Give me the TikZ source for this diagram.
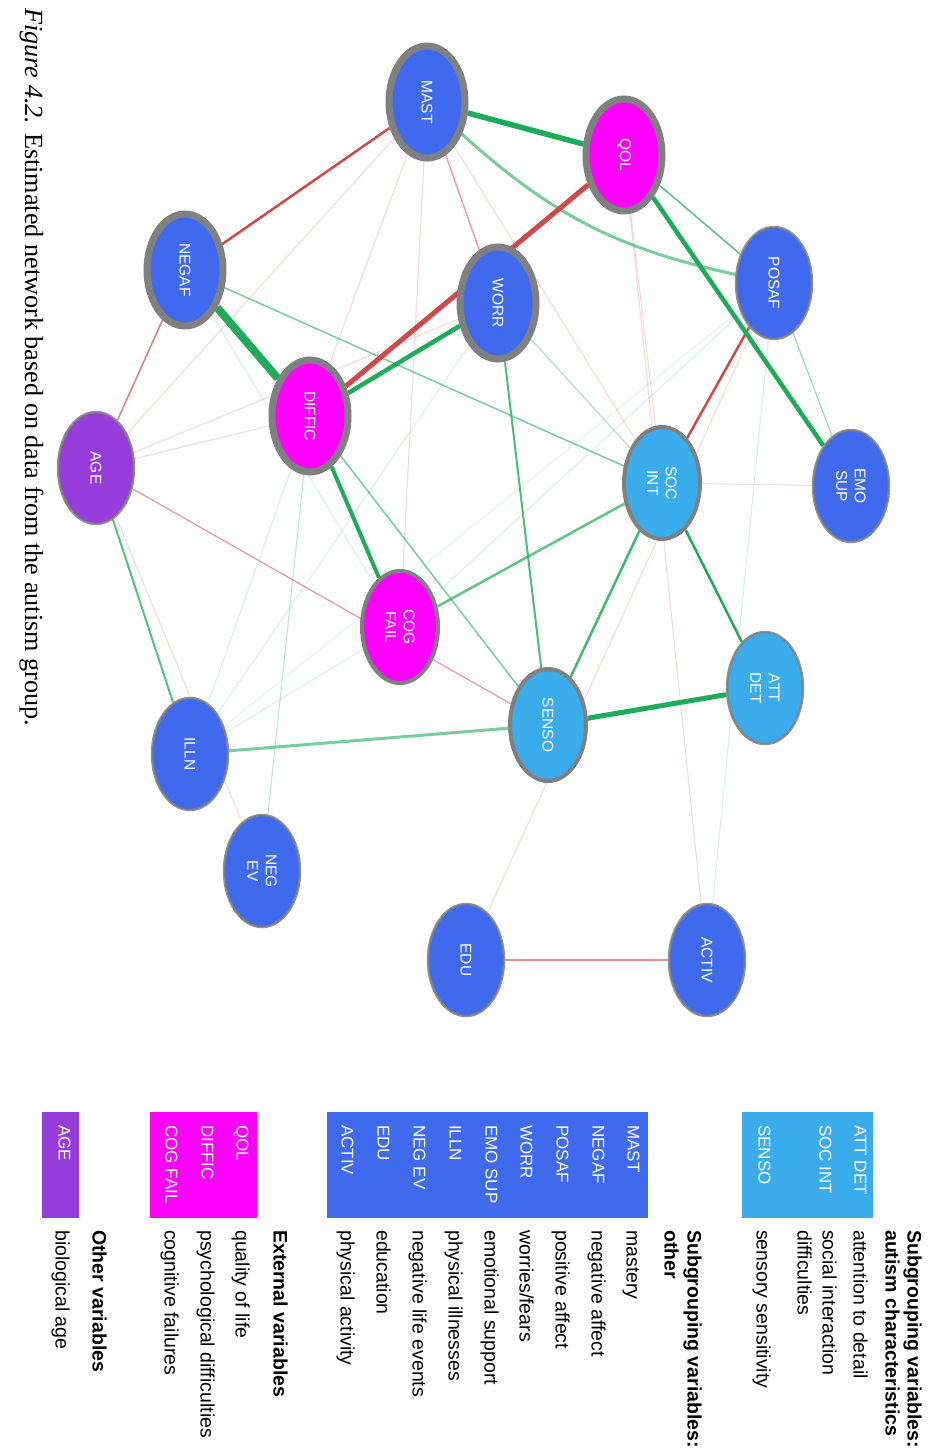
\documentclass[tikz,border=0pt]{standalone}
\usepackage{fontspec}
\setmainfont{Liberation Serif}
\newfontfamily\sansf{Liberation Sans}
\usetikzlibrary{shapes.geometric,backgrounds}
\definecolor{nblue}{RGB}{64,106,238}
\definecolor{lblue}{RGB}{58,172,236}
\definecolor{nmag}{RGB}{255,0,255}
\definecolor{npur}{RGB}{150,60,218}
\definecolor{bgray}{RGB}{128,128,128}
\definecolor{eg}{RGB}{30,172,90}
\definecolor{er}{RGB}{208,72,72}
\tikzset{
  nd/.style={ellipse, rotate=-90, minimum width=112pt, minimum height=76pt, inner sep=0pt,
    text=white, align=center, draw=bgray, font=\sansf\fontsize{15.5}{18.5}\selectfont},
  bthick/.style={line width=7pt},
  bmed/.style={line width=4pt},
  bthin/.style={line width=2.5pt, draw opacity=0.85},
  pe/.style={draw=eg, line width=#1},
  ne/.style={draw=er, line width=#1},
  fpe/.style={draw=eg, line width=1.1pt, draw opacity=0.17},
  fne/.style={draw=er, line width=1.1pt, draw opacity=0.2},
  lglab/.style={rotate=-90, anchor=mid west, inner sep=0pt, text=white, font=\sansf\fontsize{17}{20}\selectfont},
  lgdesc/.style={rotate=-90, anchor=mid west, inner sep=0pt, text=black, font=\sansf\fontsize{19.5}{23}\selectfont},
  lghead/.style={rotate=-90, anchor=mid west, inner sep=0pt, text=black, font=\sansf\bfseries\fontsize{19.5}{23}\selectfont},
}
\begin{document}
\begin{tikzpicture}[x=1pt,y=-1pt]
\useasboundingbox (0,0) rectangle (944,1449);
\begin{pgfonlayer}{background}
\fill[white] (0,0) rectangle (944,1449);
\end{pgfonlayer}

% caption
\node[rotate=-90, anchor=base west, inner sep=0pt, font=\fontsize{26.2}{30}\selectfont] (cap) at (25,8)
  {\textit{Figure 4.2.} Estimated network based on data from the autism group.};

% nodes
\node[nd, bthick, fill=nblue] (MAST) at (427,102) {MAST};
\node[nd, bthick, fill=nmag] (QOL) at (624,155) {QOL};
\node[nd, bthick, fill=nblue] (NEGAF) at (185,270) {NEGAF};
\node[nd, bthick, fill=nblue] (WORR) at (498,303) {WORR};
\node[nd, bthin, fill=nblue] (POSAF) at (774,283) {POSAF};
\node[nd, bthick, fill=nmag] (DIFFIC) at (310,416) {DIFFIC};
\node[nd, bthin, fill=npur] (AGE) at (96,468) {AGE};
\node[nd, bmed, fill=lblue] (SOCINT) at (662,483) {SOC\\INT};
\node[nd, bthin, fill=nblue] (EMOSUP) at (851,486) {EMO\\SUP};
\node[nd, bmed, fill=nmag] (COGFAIL) at (400,627) {COG\\FAIL};
\node[nd, bthin, fill=lblue] (ATTDET) at (765,688) {ATT\\DET};
\node[nd, bmed, fill=lblue] (SENSO) at (548,725) {SENSO};
\node[nd, bthin, fill=nblue] (ILLN) at (190,754) {ILLN};
\node[nd, bthin, fill=nblue] (NEGEV) at (262,871) {NEG\\EV};
\node[nd, bthin, fill=nblue] (EDU) at (466,960) {EDU};
\node[nd, bthin, fill=nblue] (ACTIV) at (707,960) {ACTIV};

% edges
\begin{pgfonlayer}{background}
% faint edges
\draw[fne] (EMOSUP) -- (SOCINT);
\draw[fne] (MAST) -- (AGE);
\draw[fne] (MAST) -- (DIFFIC);
\draw[fne] (MAST) -- (COGFAIL);
\draw[fne] (MAST) -- (SOCINT);
\draw[fne] (QOL) -- (SOCINT);
\draw[fne] (DIFFIC) -- (AGE);
\draw[fne] (AGE) -- (WORR);
\draw[fpe] (NEGAF) -- (COGFAIL);
\draw[fpe] (DIFFIC) -- (ILLN);
\draw[fpe, draw opacity=0.28] (DIFFIC) -- (NEGEV);
\draw[fne] (AGE) -- (NEGEV);
\draw[fpe] (ILLN) -- (COGFAIL);
\draw[fpe] (ILLN) -- (WORR);
\draw[fpe] (COGFAIL) -- (POSAF);
\draw[fpe] (ACTIV) -- (POSAF);
\draw[fne] (ACTIV) -- (QOL);
\draw[fne] (EDU) -- (POSAF);
\draw[fpe, draw opacity=0.12] (ILLN) -- (POSAF);
% weaker edges
\draw[pe=1.2, draw opacity=0.45] (POSAF) -- (EMOSUP);
\draw[pe=1.2, draw opacity=0.35] (WORR) -- (SOCINT);
\draw[ne=1.5, draw opacity=0.5] (MAST) -- (WORR);
\draw[ne=1.2, draw opacity=0.55] (AGE) -- (SENSO);
\draw[ne=1.5, draw opacity=0.7] (NEGAF) -- (AGE);
\draw[pe=1.5, draw opacity=0.75] (QOL) -- (POSAF);
\draw[pe=1.5, draw opacity=0.6] (DIFFIC) -- (SENSO);
\draw[pe=1.5, draw opacity=0.6] (NEGAF) -- (SOCINT);
\draw[ne=2.5, draw opacity=0.6] (EDU) -- (ACTIV);
\draw[pe=2, draw opacity=0.75] (AGE) -- (ILLN);
\draw[pe=2, draw opacity=0.8] (WORR) -- (SENSO);
\draw[pe=3, draw opacity=0.6] (ILLN) -- (SENSO);
\draw[pe=2.5, draw opacity=0.7] (SOCINT) -- (COGFAIL);
\draw[pe=3, draw opacity=0.6] (MAST) to[bend right=15] (POSAF);
\draw[pe=2.5, draw opacity=0.85] (SOCINT) -- (SENSO);
% strong edges
\draw[pe=2.5] (SOCINT) -- (ATTDET);
\draw[ne=2.5] (POSAF) -- (SOCINT);
\draw[ne=2.5] (MAST) -- (NEGAF);
\draw[pe=5] (ATTDET) -- (SENSO);
\draw[pe=4] (DIFFIC) -- (COGFAIL);
\draw[pe=4.5] (WORR) -- (DIFFIC);
\draw[pe=4.5] (QOL) -- (EMOSUP);
\draw[ne=5] (QOL) -- (DIFFIC);
\draw[pe=8] (NEGAF) -- (DIFFIC);
\draw[pe=5.5] (MAST) -- (QOL);
\end{pgfonlayer}

% legend: autism characteristics
\fill[lblue] (742,1112) rectangle (873,1218);
\node[lglab] (lATT) at (857,1125) {ATT DET};
\node[lglab] (lSOC) at (822,1125) {SOC INT};
\node[lglab] (lSEN) at (761,1125) {SENSO};
\node[lghead] (h1a) at (910,1230) {Subgrouping variables:};
\node[lghead] (h1b) at (888,1230) {autism characteristics};
\node[lgdesc] (dATT) at (856,1230) {attention to detail};
\node[lgdesc] (dSOC) at (825,1230) {social interaction};
\node[lgdesc] (dSOC2) at (800,1230) {difficulties};
\node[lgdesc] (dSEN) at (759,1230) {sensory sensitivity};

% legend: other
\fill[nblue] (327,1112) rectangle (648,1218);
\node[lglab] (lMAST) at (630,1125) {MAST};
\node[lglab] (lNEGAF) at (595,1125) {NEGAF};
\node[lglab] (lPOSAF) at (559,1125) {POSAF};
\node[lglab] (lWORR) at (523,1125) {WORR};
\node[lglab] (lEMO) at (488,1125) {EMO SUP};
\node[lglab] (lILLN) at (452,1125) {ILLN};
\node[lglab] (lNEGEV) at (416,1125) {NEG EV};
\node[lglab] (lEDU) at (380,1125) {EDU};
\node[lglab] (lACTIV) at (344,1125) {ACTIV};
\node[lghead] (h2a) at (690,1230) {Subgrouping variables:};
\node[lghead] (h2b) at (667,1230) {other};
\node[lgdesc] (dMAST) at (629,1230) {mastery};
\node[lgdesc] (dNEGAF) at (594,1230) {negative affect};
\node[lgdesc] (dPOSAF) at (558,1230) {positive affect};
\node[lgdesc] (dWORR) at (522,1230) {worries/fears};
\node[lgdesc] (dEMO) at (487,1230) {emotional support};
\node[lgdesc] (dILLN) at (451,1230) {physical illnesses};
\node[lgdesc] (dNEGEV) at (415,1230) {negative life events};
\node[lgdesc] (dEDU) at (379,1230) {education};
\node[lgdesc] (dACTIV) at (343,1230) {physical activity};

% legend: external
\fill[nmag] (150,1112) rectangle (257,1218);
\node[lglab] (lQOL) at (239,1125) {QOL};
\node[lglab] (lDIFFIC) at (204,1125) {DIFFIC};
\node[lglab] (lCOG) at (168,1125) {COG FAIL};
\node[lghead] (h3) at (276,1230) {External variables};
\node[lgdesc] (dQOL) at (238,1230) {quality of life};
\node[lgdesc] (dDIFFIC) at (203,1230) {psychological difficulties};
\node[lgdesc] (dCOG) at (167,1230) {cognitive failures};

% legend: other variables
\fill[npur] (42,1112) rectangle (79,1218);
\node[lglab] (lAGE) at (61,1125) {AGE};
\node[lghead] (h4) at (95,1230) {Other variables};
\node[lgdesc] (dAGE) at (58,1230) {biological age};
\end{tikzpicture}
\end{document}
